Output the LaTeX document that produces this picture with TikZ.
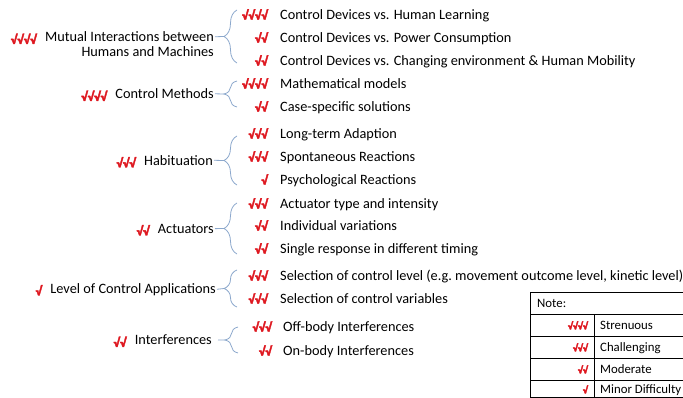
\documentclass[tikz,border=0pt]{standalone}
\usepackage{fontspec}
\setmainfont{Carlito}
\usetikzlibrary{decorations.pathreplacing,calc}

\definecolor{tickred}{RGB}{222,24,32}
\definecolor{bracecol}{RGB}{140,168,204}
\newcommand\thick[1]{\special{pdf:code q 2 Tr 0.35 w}#1\special{pdf:code Q}}

\tikzset{
  txt/.style={inner sep=0pt, yshift=-2.3pt, font=\fontsize{14.3}{16}\selectfont},
  lbl/.style={txt, anchor=mid east},
  itm/.style={txt, anchor=mid west},
  ticks/.style={txt, anchor=mid east, text=tickred, font=\fontsize{13}{15}\selectfont\bfseries},
  small/.style={inner sep=0pt, yshift=-2pt, font=\fontsize{12.8}{14}\selectfont},
  smallticks/.style={small, anchor=mid east, text=tickred, font=\fontsize{10}{12}\selectfont\bfseries},
  bracket/.style={draw=bracecol, line width=0.8pt, decorate, decoration={brace, amplitude=13pt}},
  link/.style={draw=bracecol, line width=0.8pt},
}

\begin{document}
\begin{tikzpicture}[x=1pt, y=-1pt]
\useasboundingbox (0,0) rectangle (683,398);

% left side
\node[lbl] (mutual) at (214,37) {Mutual Interactions between};
\node[lbl] (mutualb) at (214,52) {Humans and Machines};
\node[ticks] at ([xshift=-8pt]mutual.mid west) {\thick{√√√√}};

\node[lbl] (methods) at (214,94) {Control Methods};
\node[ticks] at ([xshift=-8pt]methods.mid west) {\thick{√√√√}};

\node[lbl] (habit) at (213,160.5) {Habituation};
\node[ticks] at ([xshift=-8pt]habit.mid west) {\thick{√√√}};

\node[lbl] (actu) at (214,228.5) {Actuators};
\node[ticks] at ([xshift=-8pt]actu.mid west) {\thick{√√}};

\node[lbl] (level) at (216,288.5) {Level of Control Applications};
\node[ticks] at ([xshift=-8pt]level.mid west) {\thick{√}};

\node[lbl] (interf) at (212,340) {Interferences};
\node[ticks] at ([xshift=-8pt]interf.mid west) {\thick{√√}};

% braces
\coordinate (mutualtop) at (237,10);   \coordinate (mutualbot) at (237,63);
\coordinate (methodstop) at (237,81);  \coordinate (methodsbot) at (237,107);
\coordinate (habittop) at (237,136);   \coordinate (habitbot) at (237,185);
\coordinate (actutop) at (237,203);    \coordinate (actubot) at (237,254);
\coordinate (leveltop) at (237,270);   \coordinate (levelbot) at (237,307);
\coordinate (interftop) at (238,327);  \coordinate (interfbot) at (238,353);

\foreach \g in {mutual,methods,habit,actu,level,interf}{
  \draw[bracket] (\g bot) -- (\g top);
  \coordinate (\g tip) at ($(\g top)!0.5!(\g bot)+(-13,0)$);
}
\draw[link, shorten <=1pt] (mutual.east) -- (mutualtip);
\draw[link, shorten <=1pt] (methods.east) -- (methodstip);
\draw[link, shorten <=1pt] (habit.east) -- (habittip);
\draw[link, shorten <=1pt] (actu.east) -- (actutip);
\draw[link, shorten <=1pt] (level.east) -- (leveltip);
\draw[link, shorten <=6pt] (interf.east) -- (interftip);

% right side
\foreach \n/\y/\c/\t in {
  a1/15/√√√√/{Control Devices vs. Human Learning},
  a2/38/√√/{Control Devices vs. Power Consumption},
  a3/61/√√/{Control Devices vs. Changing environment \& Human Mobility},
  b1/84/√√√√/{Mathematical models},
  b2/107/√√/{Case-specific solutions},
  c1/134/√√√/{Long-term Adaption},
  c2/157/√√√/{Spontaneous Reactions},
  c3/180/√/{Psychological Reactions},
  d1/204/√√√/{Actuator type and intensity},
  d2/226/√√/{Individual variations},
  d3/249/√√/{Single response in different timing},
  e1/276/√√√/{Selection of control level (e.g.\ movement outcome level, kinetic level)},
  e2/299/√√√/{Selection of control variables}}{
  \node[ticks] (\n c) at (268,\y) {\thick{\c}};
  \node[itm] (\n) at (280,\y) {\t};
}
\node[ticks] (f1c) at (272,327) {\thick{√√√}};
\node[itm] (f1) at (283,327) {Off-body Interferences};
\node[ticks] (f2c) at (272,351) {\thick{√√}};
\node[itm] (f2) at (283,351) {On-body Interferences};

% note table
\draw[line width=0.6pt] (683,292) -- (530,292) -- (530,397) -- (683,397);
\foreach \y in {314,336,358,380}
  \draw[line width=0.6pt] (530,\y) -- (683,\y);
\draw[line width=0.6pt] (594,314) -- (594,397);
\node[small, anchor=mid west] (note) at (537,303) {Note:};
\foreach \n/\y/\c/\t in {s1/325/√√√√/Strenuous, s2/347/√√√/Challenging,
  s3/369/√√/Moderate, s4/389/√/Minor Difficulty}{
  \node[smallticks] (\n c) at (588,\y) {\thick{\c}};
  \node[small, anchor=mid west] (\n) at (600,\y) {\t};
}
\end{tikzpicture}
\end{document}
